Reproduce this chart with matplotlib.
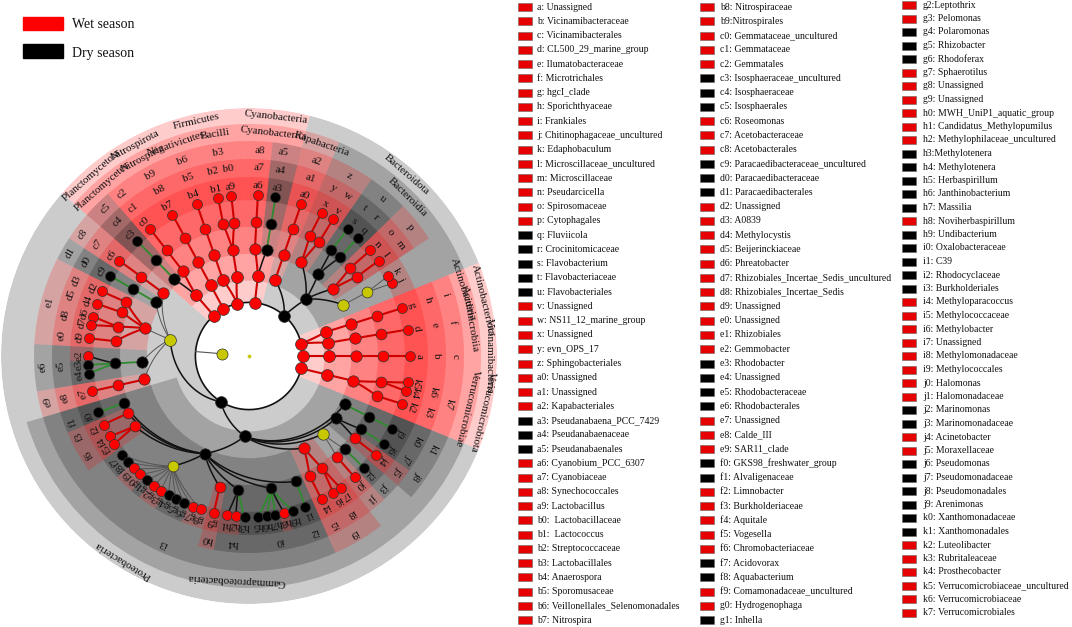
import matplotlib
matplotlib.use("Agg")
import matplotlib.pyplot as plt
import numpy as np
from matplotlib.patches import Rectangle

plt.rcParams["font.family"] = ["Liberation Serif", "DejaVu Serif"]

WET, DRY, NS = "#ff0000", "#000000", "#c8c800"

# cladogram leaves, counter-clockwise from 3 o'clock: phylum|class|order|family|genus
AP = "Proteobacteria|Alphaproteobacteria"
GP = "Proteobacteria|Gammaproteobacteria"
leaf_paths = [
    "Vicinamibacteria|Vicinamibacteria_class|c|b|a",
    "Actinobacteriota|Acidimicrobiia|f|e|d",
    "Actinobacteriota|Actinobacteria|i|h|g",
    "Bacteroidota|Bacteroidia|Chitinophagales|Chitinophagaceae|j",
    "Bacteroidota|Bacteroidia|Chitinophagales|Chitinophagaceae|k",
    "Bacteroidota|Bacteroidia|p|m|l",
    "Bacteroidota|Bacteroidia|p|o|n",
    "Bacteroidota|Bacteroidia|u|r|q",
    "Bacteroidota|Bacteroidia|u|t|s",
    "Bacteroidota|Bacteroidia|z|w|v",
    "Bacteroidota|Bacteroidia|z|y|x",
    "Bacteroidota|Kapabacteria|a2|a1|a0",
    "Cyanobacteria|Cyanobacteriia|a5|a4|a3",
    "Cyanobacteria|Cyanobacteriia|a8|a7|a6",
    "Firmicutes|Bacilli|b3|b0|a9",
    "Firmicutes|Bacilli|b3|b2|b1",
    "Firmicutes|Negativicutes|b6|b5|b4",
    "Nitrospirota|Nitrospiria|b9|b8|b7",
    "Planctomycetota|Planctomycetes|c2|c1|c0",
    "Planctomycetota|Planctomycetes|c5|c4|c3",
    AP + "|c8|c7|c6",
    AP + "|d1|d0|c9",
    AP + "|e1|d3|d2",
    AP + "|e1|d5|d4",
    AP + "|e1|d8|d6",
    AP + "|e1|d8|d7",
    AP + "|e1|e0|d9",
    AP + "|e6|e5|e2",
    AP + "|e6|e5|e3",
    AP + "|e6|e5|e4",
    AP + "|e9|e8|e7",
    GP + "|i3|f1|f0",
    GP + "|i3|f3|f2",
    GP + "|i3|f6|f4",
    GP + "|i3|f6|f5",
    GP + "|i3|Comamonadaceae|f7",
    GP + "|i3|Comamonadaceae|f8",
    GP + "|i3|Comamonadaceae|f9",
    GP + "|i3|Comamonadaceae|g0",
    GP + "|i3|Comamonadaceae|g1",
    GP + "|i3|Comamonadaceae|g2",
    GP + "|i3|Comamonadaceae|g3",
    GP + "|i3|Comamonadaceae|g4",
    GP + "|i3|Comamonadaceae|g5",
    GP + "|i3|Comamonadaceae|g6",
    GP + "|i3|Comamonadaceae|g7",
    GP + "|i3|Comamonadaceae|g8",
    GP + "|i3|h0|g9",
    GP + "|i3|h4|h1",
    GP + "|i3|h4|h2",
    GP + "|i3|h4|h3",
    GP + "|i3|i0|h5",
    GP + "|i3|i0|h6",
    GP + "|i3|i0|h7",
    GP + "|i3|i0|h8",
    GP + "|i3|i0|h9",
    GP + "|i3|i2|i1",
    GP + "|i9|i5|i4",
    GP + "|i9|i8|i6",
    GP + "|i9|i8|i7",
    GP + "|Oceanospirillales|j1|j0",
    GP + "|Oceanospirillales|j3|j2",
    GP + "|j8|j5|j4",
    GP + "|j8|j7|j6",
    GP + "|k1|k0|j9",
    "Verrucomicrobiota|Verrucomicrobiae|k7|k3|k2",
    "Verrucomicrobiota|Verrucomicrobiae|k7|k6|k4",
    "Verrucomicrobiota|Verrucomicrobiae|k7|k6|k5",
]

wet_named = ["Vicinamibacteria", "Vicinamibacteria_class", "Actinobacteriota",
             "Acidimicrobiia", "Actinobacteria", "Kapabacteria", "Cyanobacteria",
             "Cyanobacteriia", "Firmicutes", "Bacilli", "Negativicutes",
             "Nitrospirota", "Nitrospiria", "Planctomycetota", "Planctomycetes",
             "Verrucomicrobiota", "Verrucomicrobiae"]
dry_named = ["Bacteroidota", "Bacteroidia", "Proteobacteria", "Gammaproteobacteria"]
hidden_labels = ["Vicinamibacteria_class"]

legend_entries = [
    "a: Unassigned", "b: Vicinamibacteraceae", "c: Vicinamibacterales",
    "d: CL500_29_marine_group", "e: Ilumatobacteraceae", "f: Microtrichales",
    "g: hgcI_clade", "h: Sporichthyaceae", "i: Frankiales",
    "j: Chitinophagaceae_uncultured", "k: Edaphobaculum",
    "l: Microscillaceae_uncultured", "m: Microscillaceae", "n: Pseudarcicella",
    "o: Spirosomaceae", "p: Cytophagales", "q: Fluviicola", "r: Crocinitomicaceae",
    "s: Flavobacterium", "t: Flavobacteriaceae", "u: Flavobacteriales",
    "v: Unassigned", "w: NS11_12_marine_group", "x: Unassigned", "y: evn_OPS_17",
    "z: Sphingobacteriales", "a0: Unassigned", "a1: Unassigned",
    "a2: Kapabacteriales", "a3: Pseudanabaena_PCC_7429", "a4: Pseudanabaenaceae",
    "a5: Pseudanabaenales", "a6: Cyanobium_PCC_6307", "a7: Cyanobiaceae",
    "a8: Synechococcales", "a9: Lactobacillus", "b0:  Lactobacillaceae",
    "b1:  Lactococcus", "b2: Streptococcaceae", "b3: Lactobacillales",
    "b4: Anaerospora", "b5: Sporomusaceae", "b6: Veillonellales_Selenomonadales",
    "b7: Nitrospira",
    "b8: Nitrospiraceae", "b9:Nitrospirales", "c0: Gemmataceae_uncultured",
    "c1: Gemmataceae", "c2: Gemmatales", "c3: Isosphaeraceae_uncultured",
    "c4: Isosphaeraceae", "c5: Isosphaerales", "c6: Roseomonas",
    "c7: Acetobacteraceae", "c8: Acetobacterales",
    "c9: Paracaedibacteraceae_uncultured", "d0: Paracaedibacteraceae",
    "d1: Paracaedibacterales", "d2: Unassigned", "d3: A0839", "d4: Methylocystis",
    "d5: Beijerinckiaceae", "d6: Phreatobacter",
    "d7: Rhizobiales_Incertae_Sedis_uncultured", "d8: Rhizobiales_Incertae_Sedis",
    "d9: Unassigned", "e0: Unassigned", "e1: Rhizobiales", "e2: Gemmobacter",
    "e3: Rhodobacter", "e4: Unassigned", "e5: Rhodobacteraceae",
    "e6: Rhodobacterales", "e7: Unassigned", "e8: Calde_III", "e9: SAR11_clade",
    "f0: GKS98_freshwater_group", "f1: Alvaligenaceae", "f2: Limnobacter",
    "f3: Burkholderiaceae", "f4: Aquitale", "f5: Vogesella",
    "f6: Chromobacteriaceae", "f7: Acidovorax", "f8: Aquabacterium",
    "f9: Comamonadaceae_uncultured", "g0: Hydrogenophaga", "g1: Inhella",
    "g2:Leptothrix", "g3: Pelomonas", "g4: Polaromonas", "g5: Rhizobacter",
    "g6: Rhodoferax", "g7: Sphaerotilus", "g8: Unassigned", "g9: Unassigned",
    "h0: MWH_UniP1_aquatic_group", "h1: Candidatus_Methylopumilus",
    "h2: Methylophilaceae_uncultured", "h3:Methylotenera", "h4: Methylotenera",
    "h5: Herbaspirillum", "h6: Janthinobacterium", "h7: Massilia",
    "h8: Noviherbaspirillum", "h9: Undibacterium", "i0: Oxalobacteraceae",
    "i1: C39", "i2: Rhodocyclaceae", "i3: Burkholderiales",
    "i4: Methyloparacoccus", "i5: Methylococcaceae", "i6: Methylobacter",
    "i7: Unassigned", "i8: Methylomonadaceae", "i9: Methylococcales",
    "j0: Halomonas", "j1: Halomonadaceae", "j2: Marinomonas",
    "j3: Marinomonadaceae", "j4: Acinetobacter", "j5: Moraxellaceae",
    "j6: Pseudomonas", "j7: Pseudomonadaceae", "j8: Pseudomonadales",
    "j9: Arenimonas", "k0: Xanthomonadaceae", "k1: Xanthomonadales",
    "k2: Luteolibacter", "k3: Rubritaleaceae", "k4: Prosthecobacter",
    "k5: Verrucomicrobiaceae_uncultured", "k6: Verrucomicrobiaceae",
    "k7: Verrucomicrobiales",
]
dry_codes = ["q", "r", "s", "t", "u", "a3", "a4", "a5", "c3", "c4", "c5", "c9", "d0",
             "d1", "e3", "e4", "e5", "e6", "f0", "f1", "f7", "f8", "g1", "g4", "g5",
             "g6", "h3", "h4", "h5", "h6", "h7", "h9", "i0", "i1", "i2", "i3", "j2",
             "j3", "j6", "j7", "j8", "j9", "k0", "k1"]
legend_columns = [44, 44, 46]

# ---------------------------------------------------------------- layout
codes = [s.split(":")[0] for s in legend_entries]
R_STEP = 26.8                                   # radius per taxonomic level (px)
OUTER = {2: 248, 3: 232, 4: 215, 5: 197, 6: 179}
LABEL_R = {2: 240, 3: 224, 4: 206, 5: 188, 6: 170}
SEP = {0: 3.0, 1: 2.5, 2: 2.0, 3: 1.5, 4: 1.0}    # leaf spacing by shared depth

parts_list = [p.split("|") for p in leaf_paths]
n = len(parts_list)


def shared(a, b):
    k = 0
    while k < 5 and a[k] == b[k]:
        k += 1
    return k


steps = [SEP[shared(parts_list[i], parts_list[(i + 1) % n])] for i in range(n)]
unit = 2 * np.pi / sum(steps)
theta = np.concatenate([[0.0], np.cumsum(steps[:-1])]) * unit

nodes, order = {}, []
for i, parts in enumerate(parts_list):
    full = ["root", "Bacteria"] + parts
    for lev in range(len(full)):
        key = tuple(full[:lev + 1])
        if key not in nodes:
            nodes[key] = {"name": full[lev], "level": lev, "leaves": [], "children": []}
            order.append(key)
            if lev:
                nodes[key[:-1]]["children"].append(key)
        nodes[key]["leaves"].append(i)


def colour(nd):
    name = nd["name"]
    if nd["level"] >= 4 and name in codes:
        return DRY if name in dry_codes else WET
    if name in wet_named:
        return WET
    if name in dry_named:
        return DRY
    return NS


for nd in nodes.values():
    nd["th"] = 0.5 * (theta[min(nd["leaves"])] + theta[max(nd["leaves"])])
    nd["r"] = nd["level"] * R_STEP
    nd["c"] = colour(nd)


def ext(s):
    # sectors reach half way to the neighbouring leaf
    return 0.5 * s * unit


W, H = 1072, 627
fig = plt.figure(figsize=(W / 100, H / 100), dpi=100)

# pixel axes for legends
axl = fig.add_axes([0, 0, 1, 1])
axl.set_xlim(0, W)
axl.set_ylim(H, 0)
axl.axis("off")

# cladogram
CX, CY, R = 249, 356, 248
ax = fig.add_axes([(CX - R) / W, (H - CY - R) / H, 2 * R / W, 2 * R / H], projection="polar")
ax.set_ylim(0, R)
ax.axis("off")

# shaded sectors
for key in order:
    nd = nodes[key]
    if nd["level"] < 2 or nd["c"] == NS:
        continue
    i0, i1 = min(nd["leaves"]), max(nd["leaves"])
    t1 = theta[i0] - ext(steps[i0 - 1])
    t2 = theta[i1] + ext(steps[i1])
    r_in = nd["r"] if nd["level"] == 2 else nd["r"] - 5
    ax.bar(0.5 * (t1 + t2), OUTER[nd["level"]] - r_in, width=t2 - t1, bottom=r_in,
           color=nd["c"], alpha=0.2, linewidth=0, zorder=1)

# edges
circ = np.linspace(0, 2 * np.pi, 400)
ax.plot(circ, np.full_like(circ, 2 * R_STEP), color="#111111", lw=1.2, zorder=2)
dom = nodes[("root", "Bacteria")]
ax.plot([dom["th"], dom["th"]], [dom["r"], 2 * R_STEP], color="#555555", lw=0.8, zorder=2)
for key in order:
    nd = nodes[key]
    if nd["level"] < 3:
        continue
    par = nodes[key[:-1]]
    pc, cc = par["c"], nd["c"]
    if pc == NS:
        col, lw = "#555555", 0.7
    elif pc == WET and cc == WET:
        col, lw = "#d00000", 1.5
    elif pc == DRY and cc == DRY and (par["level"] >= 5 or len(par["children"]) == 1):
        col, lw = "#2e8b2e", 1.3
    else:
        col, lw = "#111111", 1.1
    tt = np.linspace(par["th"], nd["th"], 40)
    rr = np.linspace(par["r"], nd["r"], 40)
    ax.plot(tt, rr, color=col, lw=lw, zorder=2, solid_capstyle="round")

# nodes
MS = {0: 2.2, 1: 8.0, 2: 8.5, 3: 8.5, 4: 8.2, 5: 7.8, 6: 7.2}
for key in order:
    nd = nodes[key]
    ax.plot(nd["th"], nd["r"], "o", ms=MS[nd["level"]], mfc=nd["c"],
            mec="#333333" if nd["level"] else nd["c"], mew=0.5, zorder=3)

# ring labels
for key in order:
    nd = nodes[key]
    lev = nd["level"]
    if lev < 2 or nd["c"] == NS or nd["name"] in hidden_labels:
        continue
    deg = np.degrees(nd["th"]) - 90
    deg = (deg + 180) % 360 - 180
    ax.text(nd["th"], LABEL_R[lev], nd["name"], rotation=deg, rotation_mode="anchor",
            ha="center", va="center", fontsize=8, color="#111111", zorder=4, clip_on=False)

# class legend (top left)
axl.add_patch(Rectangle((23, 17), 40, 13, color=WET))
axl.add_patch(Rectangle((23, 44), 40, 14, color=DRY))
axl.text(72, 25, "Wet season", fontsize=10, va="center", color="#111111")
axl.text(72, 53, "Dry season", fontsize=10, va="center", color="#111111")

# abbreviation legend (right)
col_x = [(518, 537), (700, 720), (902, 923)]
col_y = [(7, 14.26), (7, 14.26), (5, 13.5)]
start = 0
for (sx, tx), (y0, dy), cnt in zip(col_x, col_y, legend_columns):
    for j in range(cnt):
        k = start + j
        y = y0 + j * dy
        c = DRY if codes[k] in dry_codes else "#e60000"
        axl.add_patch(Rectangle((sx, y - 4), 14, 8, facecolor=c, edgecolor="#666666", lw=0.4))
        axl.text(tx, y, legend_entries[k], fontsize=7, va="center", color="#111111")
    start += cnt

fig.savefig("out.png", dpi=100)
